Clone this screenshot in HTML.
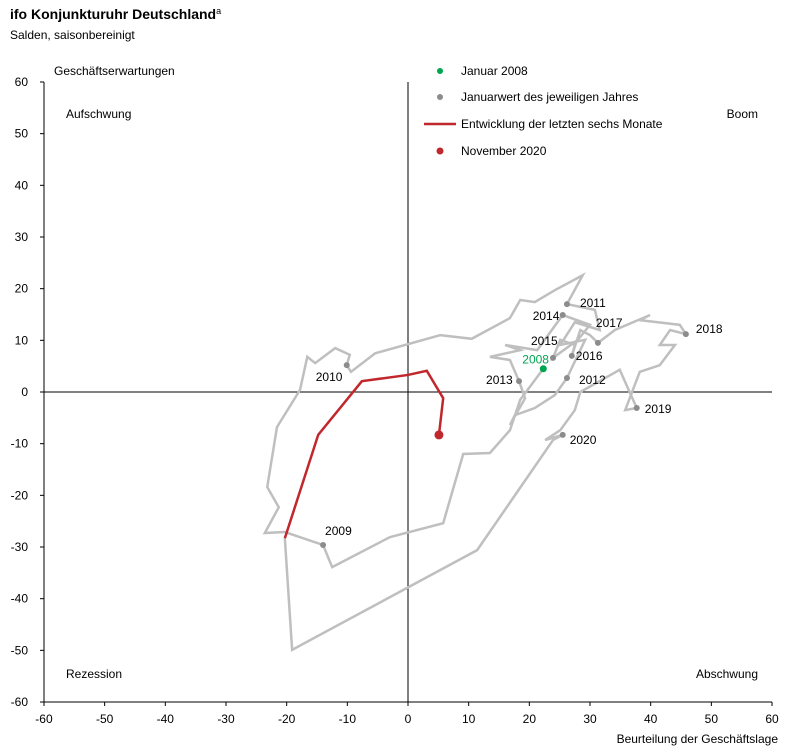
<!DOCTYPE html>
<html><head><meta charset="utf-8"><style>
body{margin:0;background:#fff;font-family:"Liberation Sans",sans-serif;}
svg{display:block}
</style></head><body>
<svg width="810" height="752" xmlns="http://www.w3.org/2000/svg" font-family="Liberation Sans, sans-serif">
<text x="10" y="19" font-size="14" font-weight="bold">ifo Konjunkturuhr  Deutschland<tspan font-size="9" dy="-5" font-weight="normal">a</tspan></text>
<text x="10" y="39" font-size="12">Salden, saisonbereinigt</text>
<g id="axes"></g>
<g id="marks"></g>
<g font-size="12">
 <circle cx="440" cy="71" r="3" fill="#00a550"/>
 <text x="461" y="75">Januar 2008</text>
 <circle cx="440" cy="97" r="3" fill="#8c8c8c"/>
 <text x="461" y="101">Januarwert des jeweiligen Jahres</text>
 <line x1="424" y1="124" x2="456" y2="124" stroke="#c0282d" stroke-width="2.5"/>
 <text x="461" y="128">Entwicklung der letzten sechs Monate</text>
 <circle cx="440" cy="151" r="3.5" fill="#c0282d"/>
 <text x="461" y="155">November 2020</text>
</g>
<g font-size="12">
 <text x="54" y="75">Geschäftserwartungen</text>
 <text x="66" y="118">Aufschwung</text>
 <text x="758" y="118" text-anchor="end">Boom</text>
 <text x="66" y="678">Rezession</text>
 <text x="758" y="678" text-anchor="end">Abschwung</text>
 <text x="778" y="743" text-anchor="end">Beurteilung der Geschäftslage</text>
</g>
</svg>
<script>
const xTicks=[-60,-50,-40,-30,-20,-10,0,10,20,30,40,50,60];
const yTicks=[60,50,40,30,20,10,0,-10,-20,-30,-40,-50,-60];
const grayX=[22.3,18.5,16.8,13.5,9.1,5.8,-3.0,-12.5,-14.0,-20.3,-23.6,-21.3,-23.2,-21.6,-17.8,-16.6,-15.3,-12.0,-9.6,-10.1,-9.4,-5.4,5.3,10.5,16.8,18.5,20.9,24.2,28.8,26.2,30.8,31.6,27.5,25.1,29.2,26.2,24.2,20.9,17.6,16.8,19.3,18.3,16.8,13.5,18.5,16.0,21.3,25.5,30.0,28.0,23.9,25.1,27.5,27.0,28.4,30.0,31.3,34.1,39.9,38.2,44.8,45.8,43.2,41.5,44.0,41.5,38.2,35.8,37.7,34.9,28.4,27.5,25.1,22.6,25.5,23.9,11.4,-19.1,-20.3];
const grayY=[4.5,-1.5,-7.4,-11.8,-12.0,-25.4,-28.1,-33.9,-29.6,-27.1,-27.3,-22.3,-18.4,-6.8,0.4,6.8,5.6,8.5,7.2,5.2,3.9,7.5,11.0,10.3,14.3,17.8,17.4,19.7,22.6,17.0,15.9,12.0,13.5,9.1,10.1,2.7,-0.6,-3.1,-4.5,-6.4,-1.2,2.1,6.2,6.8,8.1,9.1,8.1,14.9,13.0,10.1,6.6,10.1,9.1,7.0,12.0,11.0,9.5,12.0,14.9,13.9,13.0,11.2,12.0,9.1,9.1,5.2,3.9,-3.5,-3.1,4.3,0,-3.5,-7.4,-9.3,-8.3,-9.3,-30.6,-49.9,-28.3];
const redX=[-20.3,-14.8,-7.6,0,3.1,5.8,5.1];
const redY=[-28.3,-8.3,2.1,3.3,4.1,-1.2,-8.3];
const years=["2009","2010","2011","2012","2013","2014","2015","2016","2017","2018","2019","2020"];
const yearX=[-14.0,-10.1,26.2,26.2,18.3,25.5,23.9,27.0,31.3,45.8,37.7,25.5];
const yearY=[-29.6,5.2,17.0,2.7,2.1,14.9,6.6,7.0,9.5,11.2,-3.1,-8.3];
const start2008X=22.3, start2008Y=4.5;
// label offsets (styling only, pixels relative to dot)
const labelDX=[2,-31,13,12,-33,-30,-22,4,-2,10,8,7];
const labelDY=[-10,16,3,6,3,5,-13,4,-16,-1,5,9];

const NS="http://www.w3.org/2000/svg";
const sx=v=>408+v*6.067, sy=v=>392-v*5.167;
function mk(tag,attrs,parent){const e=document.createElementNS(NS,tag);for(const k in attrs)e.setAttribute(k,attrs[k]);parent.appendChild(e);return e;}
const axes=document.getElementById('axes'), marks=document.getElementById('marks');
let e;
e=mk('line',{x1:44,y1:82,x2:44,y2:702,stroke:'#000','stroke-width':1},axes);


e=mk('line',{x1:44,y1:702,x2:772,y2:702,stroke:'#000','stroke-width':1},axes);


e=mk('line',{x1:sx(0),y1:82,x2:sx(0),y2:702,stroke:'#000','stroke-width':1},axes);


e=mk('line',{x1:44,y1:sy(0),x2:772,y2:sy(0),stroke:'#000','stroke-width':1},axes);


xTicks.forEach(t=>{
 e=mk('line',{x1:sx(t),y1:702,x2:sx(t),y2:706,stroke:'#000'},axes);
 
 
 e=mk('text',{x:sx(t),y:723,'font-size':12,'text-anchor':'middle'},axes);e.textContent=t;
 
 
});
yTicks.forEach(t=>{
 e=mk('line',{x1:40,y1:sy(t),x2:44,y2:sy(t),stroke:'#000'},axes);
 
 
 e=mk('text',{x:28,y:sy(t)+4,'font-size':12,'text-anchor':'end'},axes);e.textContent=t;
 
 
});
e=mk('polyline',{points:grayX.map((v,i)=>sx(v)+','+sy(grayY[i])).join(' '),fill:'none',stroke:'#bfbfbf','stroke-width':2.5,'stroke-linejoin':'miter'},marks);


e=mk('polyline',{points:redX.map((v,i)=>sx(v)+','+sy(redY[i])).join(' '),fill:'none',stroke:'#c0282d','stroke-width':2.5},marks);


years.forEach((y,i)=>{
 e=mk('circle',{cx:sx(yearX[i]),cy:sy(yearY[i]),r:3,fill:'#8c8c8c'},marks);
 
 
 e=mk('text',{x:sx(yearX[i])+labelDX[i],y:sy(yearY[i])+labelDY[i],'font-size':12},marks);
 e.textContent=y;
 
 
});
e=mk('circle',{cx:sx(start2008X),cy:sy(start2008Y),r:3.5,fill:'#00a550'},marks);


e=mk('text',{x:sx(start2008X)-21,y:sy(start2008Y)-5,'font-size':12,fill:'#00a550'},marks);e.textContent='2008';


e=mk('circle',{cx:sx(redX[redX.length-1]),cy:sy(redY[redY.length-1]),r:4.5,fill:'#c0282d'},marks);


</script>
</body></html>
